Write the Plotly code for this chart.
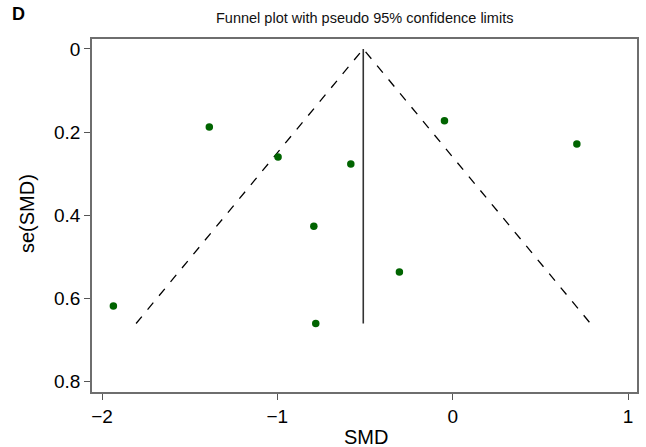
import plotly.graph_objects as go

smd = [-1.388, -0.996, -0.581, -0.792, -1.935, -0.781, -0.304, -0.047, 0.708]
se_smd = [0.188, 0.260, 0.277, 0.427, 0.619, 0.661, 0.537, 0.173, 0.229]
pooled = -0.51
se_max = 0.661
z = 1.96

x_ticks = [-2, -1, 0, 1]
x_tick_text = ["\u22122", "\u22121", "0", "1"]
y_ticks = [0, 0.2, 0.4, 0.6, 0.8]
y_tick_text = ["0", "0.2", "0.4", "0.6", "0.8"]

# plot area in pixels: x 92..637, y 39..392
L, R, T, B = 92, 637, 39, 392
W, H = R - L, B - T


def px(x):
    return (x - L) / W


def py(y):
    return (B - y) / H


fig = go.Figure()
fig.add_trace(go.Scatter(
    x=[pooled - z * se_max, pooled, pooled + z * se_max],
    y=[se_max, 0, se_max],
    mode="lines", line=dict(color="black", width=1.3, dash="dash"),
    hoverinfo="skip", showlegend=False))
fig.add_trace(go.Scatter(
    x=[pooled, pooled], y=[0, se_max],
    mode="lines", line=dict(color="#333333", width=1.6),
    hoverinfo="skip", showlegend=False))
fig.add_trace(go.Scatter(
    x=smd, y=se_smd, mode="markers",
    marker=dict(color="#006400", size=7.5), showlegend=False))

font_family = "Liberation Sans, Arial, Helvetica, sans-serif"
fig.update_layout(
    template="none",
    width=646, height=447,
    margin=dict(l=L, r=646 - R, t=T, b=447 - B, pad=0),
    paper_bgcolor="white", plot_bgcolor="white",
    font=dict(family=font_family, color="black"),
    showlegend=False,
    annotations=[
        dict(text="Funnel plot with pseudo 95% confidence limits",
             x=px(364), y=py(18), xref="paper", yref="paper",
             xanchor="center", yanchor="middle", showarrow=False,
             font=dict(size=14.5, color="#111111")),
        dict(text="<b>D</b>", x=px(18), y=py(14), xref="paper", yref="paper",
             xanchor="center", yanchor="middle", showarrow=False,
             font=dict(size=18)),
        dict(text="SMD", x=px(366), y=py(437), xref="paper", yref="paper",
             xanchor="center", yanchor="middle", showarrow=False,
             font=dict(size=20)),
        dict(text="se(SMD)", x=px(27), y=py(214), xref="paper", yref="paper",
             xanchor="center", yanchor="middle", showarrow=False,
             textangle=-90, font=dict(size=20)),
    ],
)

fig.update_xaxes(
    range=[-2.057, 1.051], tickvals=x_ticks, ticktext=x_tick_text,
    ticks="outside", ticklen=6, tickcolor="#555555", tickwidth=1,
    showline=True, linecolor="#6e6e6e", linewidth=1.5, mirror=True,
    showgrid=False, zeroline=False, tickfont=dict(size=19),
    automargin=False)
fig.update_yaxes(
    range=[0.826, -0.024], tickvals=y_ticks, ticktext=y_tick_text,
    ticks="outside", ticklen=6, tickcolor="#555555", tickwidth=1,
    showline=True, linecolor="#6e6e6e", linewidth=1.5, mirror=True,
    showgrid=False, zeroline=False, tickfont=dict(size=19),
    automargin=False)

fig.write_html(
    "out.html",
    config={"displayModeBar": False},
    post_script="document.body.style.margin='0';document.body.style.overflow='hidden';",
)
